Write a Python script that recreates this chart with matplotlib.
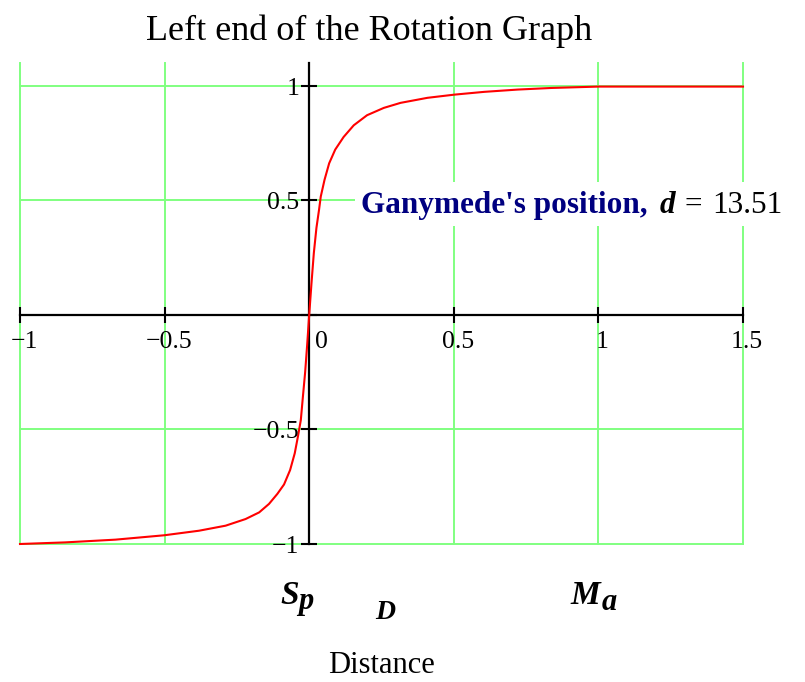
import matplotlib
matplotlib.use("Agg")
import matplotlib.pyplot as plt
from matplotlib.patches import Rectangle
import matplotlib.transforms as mtransforms

# ---- data ----
distance = [-1.0, -0.844, -0.670, -0.502, -0.381, -0.289, -0.220, -0.173, -0.139, -0.110,
            -0.087, -0.066, -0.050, -0.039, -0.029, -0.022, -0.014, -0.007, 0.0, 0.008,
            0.016, 0.025, 0.034, 0.040, 0.053, 0.069, 0.090, 0.119, 0.154, 0.200,
            0.258, 0.316, 0.409, 0.503, 0.605, 0.721, 0.837, 1.0, 1.25, 1.5]
rotation = [-1.0, -0.993, -0.981, -0.962, -0.942, -0.920, -0.891, -0.862, -0.825, -0.781,
            -0.740, -0.677, -0.604, -0.531, -0.459, -0.36, -0.25, -0.13, 0.0, 0.14,
            0.27, 0.38, 0.459, 0.517, 0.590, 0.662, 0.722, 0.777, 0.828, 0.872,
            0.904, 0.926, 0.948, 0.962, 0.974, 0.984, 0.991, 0.997, 0.997, 0.997]

x_ticks = [-1, -0.5, 0, 0.5, 1, 1.5]
x_tick_labels = ["\u22121", "\u22120.5", "0", "0.5", "1", "1.5"]
y_ticks = [-1, -0.5, 0.5, 1]
y_tick_labels = ["\u22121", "\u22120.5", "0.5", "1"]

title = "Left end of the Rotation Graph"
xlabel = "Distance"
annot_label = "Ganymede's position,"
annot_var = "d"
annot_value = "13.51"

W, H = 805, 682
FONT = "Liberation Serif"
plt.rcParams["font.family"] = [FONT, "DejaVu Serif"]

fig = plt.figure(figsize=(W / 100, H / 100), dpi=100)
fig.patch.set_facecolor("white")

left_px, right_px, top_px, bot_px = 20, 743, 63, 544
ax = fig.add_axes([left_px / W, 1 - bot_px / H, (right_px - left_px) / W, (bot_px - top_px) / H])
ax.set_xlim(-1, 1.5)
ax.set_ylim(-1, 1.1)
ax.patch.set_visible(False)

# grid
green = "#80FF80"
for xv in x_ticks:
    ax.axvline(xv, color=green, lw=1.4, zorder=0.5, clip_on=False)
for yv in [-1, -0.5, 0, 0.5, 1]:
    ax.axhline(yv, color=green, lw=1.4, zorder=0.5, clip_on=False)

# axes through origin
for s in ["top", "right"]:
    ax.spines[s].set_visible(False)
ax.spines["left"].set_position(("data", 0))
ax.spines["bottom"].set_position(("data", 0))
for s in ["left", "bottom"]:
    ax.spines[s].set_linewidth(1.6)
    ax.spines[s].set_zorder(2.5)

ax.set_xticks([t for t in x_ticks if t != 0])
ax.set_yticks(y_ticks + [0])
ax.tick_params(direction="inout", length=11.5, width=1.5, color="black",
               labelbottom=False, labelleft=False)

# curve
ax.plot(distance, rotation, color="#FF0000", lw=1.5, zorder=3, clip_on=False,
        solid_joinstyle="round")

# tick labels
for xv, lab in zip(x_ticks, x_tick_labels):
    if xv == 0:
        tr = mtransforms.offset_copy(ax.transData, fig=fig, x=6 * 0.72, y=-16 * 0.72, units="points")
        ax.text(xv, 0, lab, transform=tr, ha="left", va="top", fontsize=18.5, family=FONT)
    else:
        tr = mtransforms.offset_copy(ax.transData, fig=fig, x=4 * 0.72, y=-16 * 0.72, units="points")
        ax.text(xv, 0, lab, transform=tr, ha="center", va="top", fontsize=18.5, family=FONT)
for yv, lab in zip(y_ticks, y_tick_labels):
    tr = mtransforms.offset_copy(ax.transData, fig=fig, x=-10 * 0.72, y=-3 * 0.72, units="points")
    ax.text(0, yv, lab, transform=tr, ha="right", va="center", fontsize=18.5, family=FONT)


def px(x, y):
    return x / W, 1 - y / H


# title and x label
fig.text(*px(369, 40), title, ha="center", va="baseline", fontsize=26, family=FONT)
fig.text(*px(381, 673), xlabel, ha="center", va="baseline", fontsize=22, family=FONT)

# axis markers
bi = dict(family=FONT, fontweight="bold", fontstyle="italic", va="baseline", ha="left")
fig.text(*px(280, 604), "S", fontsize=24, **bi)
fig.text(*px(298, 609), "p", fontsize=22, **bi)
fig.text(*px(375, 619), "D", fontsize=20, **bi)
fig.text(*px(570, 604), "M", fontsize=24, **bi)
fig.text(*px(602, 610), "a", fontsize=22, **bi)

# annotation with white background
rx0, ry0 = px(355, 226)
rx1, ry1 = px(790, 182)
fig.add_artist(Rectangle((rx0, ry0), rx1 - rx0, ry1 - ry0, transform=fig.transFigure,
                         facecolor="white", edgecolor="none", zorder=4))
fig.text(*px(361, 213), annot_label, fontsize=22.5, fontweight="bold", color="#000080",
         family=FONT, ha="left", va="baseline", zorder=5)
fig.text(*px(660, 213), annot_var, fontsize=22.5, fontweight="bold", fontstyle="italic",
         color="black", family=FONT, ha="left", va="baseline", zorder=5)
fig.text(*px(684, 213), "=", fontsize=22.5, color="black", family=FONT,
         ha="left", va="baseline", zorder=5)
fig.text(*px(712, 213), annot_value, fontsize=22.5, color="black", family=FONT,
         ha="left", va="baseline", zorder=5)

fig.savefig("out.png", dpi=100, facecolor="white")
